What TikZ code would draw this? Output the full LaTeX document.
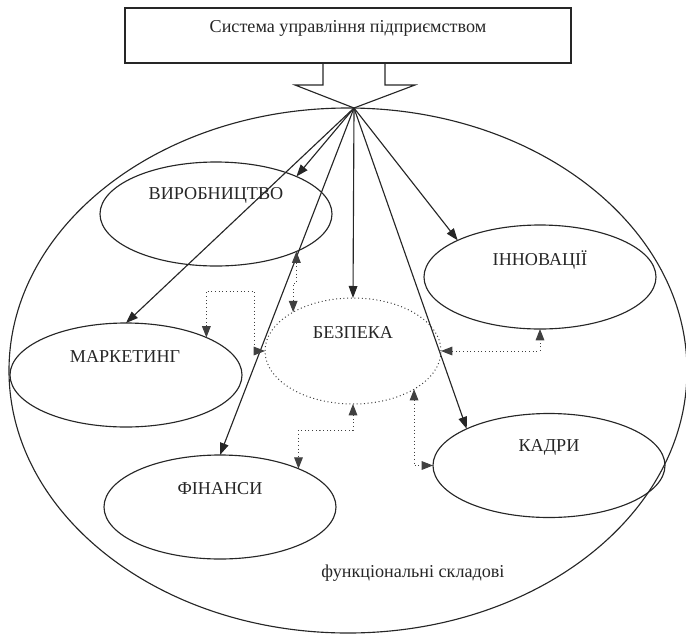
\documentclass[tikz,border=0pt]{standalone}
\usepackage{fontspec}
\setmainfont{Liberation Serif}
\usetikzlibrary{arrows.meta,shapes.geometric}
\begin{document}
\begin{tikzpicture}[x=0.75pt,y=-0.75pt,
  ink/.style={draw=black!85, line width=0.85pt},
  fell/.style={ink, ellipse, minimum width=174pt, minimum height=78pt, inner sep=0pt, outer sep=0pt},
  lbl/.style={font=\fontsize{13.6}{16}\selectfont, text=black!85, inner sep=0pt},
  sarrow/.style={ink, -{Triangle[length=9pt,width=6.5pt]}},
  darrow/.style={draw=black!75, line width=0.75pt, dotted, {Triangle[length=8.5pt,width=6.5pt]}-{Triangle[length=8.5pt,width=6.5pt]}}
]
\useasboundingbox (0,0) rectangle (686,636);
% top box
\node[ink, rectangle, minimum width=334.5pt, minimum height=41.25pt, inner sep=0pt, outer sep=0pt] (sys) at (348,35.5) {};
\node[lbl] (sysT) at (348,28) {Система управління підприємством};
% hollow arrow
\coordinate (hub) at (354,108);
\coordinate (sL) at (323,63);
\coordinate (sR) at (385,63);
\draw[ink, line join=miter] (sL) -- (323,85) -- (295,85) -- (hub) -- (415,85) -- (385,85) -- (sR);
% outer ellipse
\node[ink, ellipse, minimum width=508.5pt, minimum height=393.75pt, inner sep=0pt, outer sep=0pt] (outer) at (348,370.5) {};
\node[lbl] (outT) at (413,573) {функціональні складові};
% inner ellipses
\node[fell] (vir) at (216,214) {};
\node[fell] (mark) at (126,375) {};
\node[fell] (inn) at (540,277) {};
\node[fell] (kad) at (549,465.5) {};
\node[fell] (fin) at (220,507) {};
\node[ellipse, draw=black!75, line width=0.75pt, dotted, minimum width=132pt, minimum height=79.5pt, inner sep=0pt, outer sep=0pt] (bez) at (353,351) {};
% labels
\node[lbl] (virT) at (216,195) {ВИРОБНИЦТВО};
\node[lbl] (markT) at (125,357) {МАРКЕТИНГ};
\node[lbl] (innT) at (540,260) {ІННОВАЦІЇ};
\node[lbl] (kadT) at (549,447) {КАДРИ};
\node[lbl] (finT) at (220,489) {ФІНАНСИ};
\node[lbl] (bezT) at (353,333) {БЕЗПЕКА};
% solid arrows from hub
\draw[sarrow] (hub) -- (vir.25);
\draw[sarrow] (hub) -- (mark.north);
\draw[sarrow] (hub) -- (fin.north);
\draw[sarrow] (hub) -- (bez.north);
\draw[sarrow] (hub) -- (inn.156);
\draw[sarrow] (hub) -- (kad.156);
% dotted connectors
\coordinate (c1) at (254,291);
\coordinate (c2) at (296,283);
\coordinate (c3) at (320,430);
\draw[darrow] (mark.25) |- (c1) |- (bez.west);
\draw[darrow] (vir.-25) |- (c2) -| (bez.147);
\draw[darrow] (bez.south) |- (c3) -| (fin.26);
\draw[darrow] (bez.-32) |- (kad.west);
\draw[darrow] (bez.east) -| (inn.south);
\end{tikzpicture}
\end{document}
